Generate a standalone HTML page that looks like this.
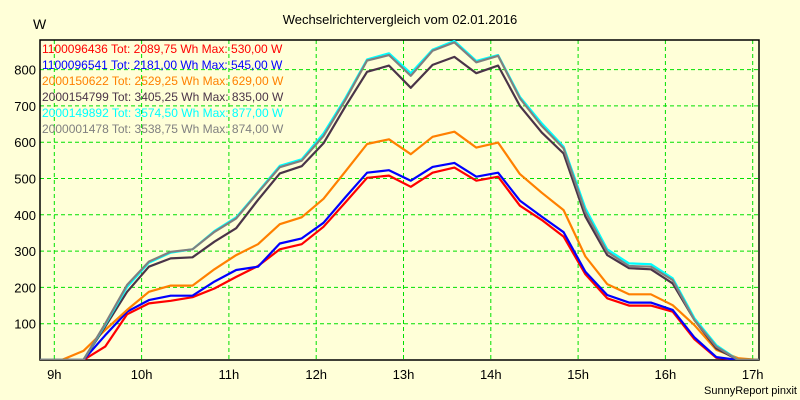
<!DOCTYPE html>
<html><head><meta charset="utf-8"><style>
body{margin:0;background:#ffffd8;}
svg{display:block;font-family:"Liberation Sans",sans-serif;}
</style></head><body>
<svg id="chart" width="800" height="400" viewBox="0 0 800 400">
<rect x="0" y="0" width="800" height="400" fill="#ffffd8"/>
<text x="400" y="24" font-size="13" text-anchor="middle" fill="#000">Wechselrichtervergleich vom 02.01.2016</text>
<text x="33" y="29" font-size="14" fill="#000">W</text>
<g id="grid"></g><g id="axes"></g><g id="series"></g><g id="legend"></g>
<text x="797" y="394" font-size="11" text-anchor="end" fill="#000">SunnyReport pinxit</text>
</svg>
<script>
const times=["8:50","9:05","9:20","9:35","9:50","10:05","10:20","10:35","10:50","11:05","11:20","11:35","11:50","12:05","12:20","12:35","12:50","13:05","13:20","13:35","13:50","14:05","14:20","14:35","14:50","15:05","15:20","15:35","15:50","16:05","16:20","16:35","16:50","17:05"];
const red=[0,0,0,37,126,156,163,173,197,229,259,305,319,367,434,502,508,477,516,530,494,505,425,386,340,236,170,150,150,133,57,6,0,0];
const blue=[0,0,0,68,133,165,177,177,216,248,257,321,335,378,448,516,523,494,532,543,505,516,439,395,352,243,179,158,158,138,62,8,0,0];
const orange=[0,0,25,83,138,188,205,205,250,289,319,374,393,444,519,595,608,567,615,629,585,599,512,461,413,285,209,181,181,151,96,28,5,0];
const dark=[0,0,0,92,188,257,280,283,326,363,441,514,534,597,698,794,811,750,813,835,790,811,700,627,569,395,289,253,250,211,110,32,0,0];
const cyan=[0,0,0,97,201,268,296,305,355,393,463,535,553,624,721,828,845,790,855,879,824,840,725,652,588,418,305,266,264,225,115,41,0,0];
const gray=[0,0,0,100,207,271,298,305,353,390,461,531,549,617,716,825,840,783,852,875,820,838,721,645,583,408,298,259,257,220,110,37,0,0];
const yTicks=[100,200,300,400,500,600,700,800];
const xTicks=["9h","10h","11h","12h","13h","14h","15h","16h","17h"];
const legendLabels=["1100096436 Tot: 2089,75 Wh Max: 530,00 W","1100096541 Tot: 2181,00 Wh Max: 545,00 W","2000150622 Tot: 2529,25 Wh Max: 629,00 W","2000154799 Tot: 3405,25 Wh Max: 835,00 W","2000149892 Tot: 3574,50 Wh Max: 877,00 W","2000001478 Tot: 3538,75 Wh Max: 874,00 W"];

const NS="http://www.w3.org/2000/svg";
const L=40,R=759,T=40,B=360;
function xh(h){return 54.3+(h-9)*87.3;}
function xt(s){const p=s.split(":");return xh(+p[0]+(+p[1])/60);}
function y(v){return 360-v*0.363;}
function mk(tag,attrs,parent){const e=document.createElementNS(NS,tag);for(const k in attrs)e.setAttribute(k,attrs[k]);parent.appendChild(e);return e;}
const grid=document.getElementById('grid'),axes=document.getElementById('axes'),ser=document.getElementById('series'),leg=document.getElementById('legend');
yTicks.forEach(v=>{
 const l=mk('line',{x1:L,x2:R,y1:y(v),y2:y(v),stroke:'#00e000','stroke-dasharray':'4,3','stroke-width':1},grid);
 
 
 const t=mk('text',{x:36,y:y(v)+5,'font-size':13,'text-anchor':'end',fill:'#000'},axes);
 
 
 t.textContent=v;
});
xTicks.forEach((s,i)=>{
 const x=xh(9+i);
 const l=mk('line',{x1:x,x2:x,y1:T,y2:B,stroke:'#00e000','stroke-dasharray':'4,3','stroke-width':1},grid);
 
 
 const t=mk('text',{x:x,y:379,'font-size':13,'text-anchor':'middle',fill:'#000'},axes);
 
 
 t.textContent=s;
});
const frame=mk('rect',{x:L,y:T,width:R-L,height:B-T,fill:'none',stroke:'#000','stroke-width':1.5},axes);


const cp=mk('clipPath',{id:'clip'},ser);mk('rect',{x:L,y:T,width:R-L,height:B-T},cp);
const series=[[red,'#ff0000','series-1100096436'],[blue,'#0000ff','series-1100096541'],[orange,'#ff8000','series-2000150622'],[dark,'#4a3448','series-2000154799'],[cyan,'#00ffff','series-2000149892'],[gray,'#808080','series-2000001478']];
series.forEach((s,i)=>{
 const pts=times.map((t,j)=>xt(t).toFixed(1)+','+y(s[0][j]).toFixed(1)).join(' ');
 const p=mk('polyline',{points:pts,fill:'none',stroke:s[1],'stroke-width':2.2,'stroke-linejoin':'round','clip-path':'url(#clip)'},ser);
 
 
 const t=mk('text',{x:42,y:53+i*16,'font-size':12,fill:s[1]},leg);
 
 
 t.textContent=legendLabels[i];
});
</script>
</body></html>
